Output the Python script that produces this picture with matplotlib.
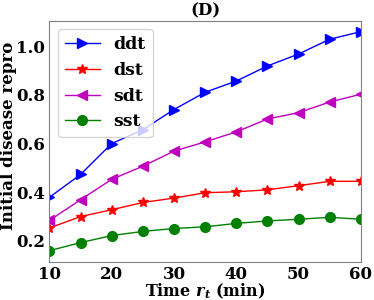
import matplotlib
matplotlib.use("Agg")
import matplotlib.pyplot as plt

x = [10, 15, 20, 25, 30, 35, 40, 45, 50, 55, 60]
ddt = [0.378, 0.472, 0.599, 0.656, 0.739, 0.81, 0.856, 0.918, 0.967, 1.028, 1.059]
dst = [0.252, 0.299, 0.327, 0.357, 0.375, 0.397, 0.401, 0.409, 0.426, 0.444, 0.444]
sdt = [0.283, 0.368, 0.452, 0.506, 0.568, 0.606, 0.647, 0.700, 0.726, 0.770, 0.802]
sst = [0.159, 0.192, 0.221, 0.238, 0.250, 0.257, 0.271, 0.281, 0.288, 0.296, 0.288]

plt.rcParams['font.family'] = 'DejaVu Serif'
plt.rcParams['font.weight'] = 'bold'
plt.rcParams['mathtext.fontset'] = 'dejavuserif'

fig, ax = plt.subplots(figsize=(3.74, 3.0), dpi=100)
ax.plot(x, ddt, color='blue', marker='>', markersize=7, lw=1, label='ddt')
ax.plot(x, dst, color='red', marker='*', markersize=7, lw=1, label='dst')
ax.plot(x, sdt, color='m', marker='<', markersize=7, lw=1, label='sdt')
ax.plot(x, sst, color='green', marker='o', markersize=7, lw=1, label='sst')
ax.set_xlim(10, 60)
ax.set_yticks([0.2, 0.4, 0.6, 0.8, 1.0])
ax.tick_params(labelsize=12, length=0, pad=3)
for lab in ax.get_xticklabels() + ax.get_yticklabels():
    lab.set_fontweight('bold')
for s in ax.spines.values():
    s.set_color('gray')
ax.set_title('(D)', fontsize=12, fontweight='bold', pad=4)
ax.set_xlabel('Time $\\boldsymbol{r_t}$ (min)', fontsize=11.5, fontweight='bold', labelpad=-1)
ax.set_ylabel('Initial disease repro', fontsize=12, fontweight='bold')
ax.yaxis.set_label_coords(-0.103, 0.52)
leg = ax.legend(loc='upper left', fontsize=12.5, handlelength=2)
fig.subplots_adjust(left=0.132, right=0.965, top=0.931, bottom=0.128)
fig.savefig('out.png', dpi=100)
